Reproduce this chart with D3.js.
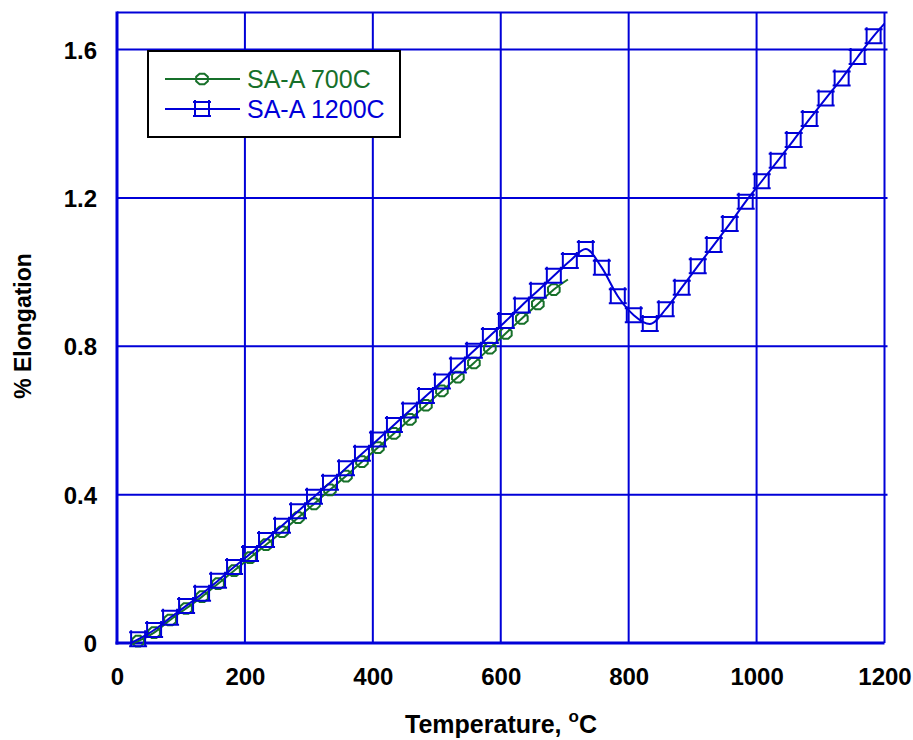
<!DOCTYPE html>
<html>
<head>
<meta charset="utf-8">
<script src="https://cdn.jsdelivr.net/npm/d3@7"></script>
<style>
  html, body { margin: 0; padding: 0; background: #fff; }
  svg { display: block; }
  text { font-family: "Liberation Sans", Arial, sans-serif; }
</style>
</head>
<body>
<svg id="chart" width="913" height="740"></svg>
<script>
// Dilatometer curves: % elongation vs temperature
const seriesNames = ["SA-A 700C", "SA-A 1200C"];

// SA-A heated to 700 C (line points; markers on all but the end points)
const temp700 = [25, 33, 58, 83, 108, 133, 158, 183, 208, 233, 258, 283, 308, 333, 358, 383,
                 408, 433, 458, 483, 508, 533, 558, 583, 608, 633, 658, 683, 705];
const elong700 = [0.0, 0.005, 0.028, 0.062, 0.093, 0.125, 0.16, 0.195, 0.23, 0.265, 0.30, 0.338,
                  0.375, 0.413, 0.45, 0.489, 0.527, 0.565, 0.603, 0.641, 0.68, 0.717, 0.755,
                  0.795, 0.835, 0.875, 0.914, 0.953, 0.98];

// SA-A heated to 1200 C
const temp1200 = [22, 33, 58, 83, 108, 133, 158, 183, 208, 233, 258, 283, 308, 333, 358, 383,
                  408, 433, 458, 483, 508, 533, 558, 583, 608, 633, 658, 683, 708, 733, 758,
                  783, 808, 833, 858, 883, 908, 933, 958, 983, 1008, 1033, 1058, 1083, 1108,
                  1133, 1158, 1183, 1200];
const elong1200 = [0.0, 0.01, 0.035, 0.068, 0.10, 0.133, 0.168, 0.205, 0.24, 0.278, 0.316, 0.355,
                   0.394, 0.432, 0.471, 0.510, 0.549, 0.588, 0.627, 0.666, 0.705, 0.748, 0.788,
                   0.828, 0.868, 0.91, 0.95, 0.99, 1.03, 1.062, 1.012, 0.935, 0.884, 0.86,
                   0.90, 0.958, 1.016, 1.073, 1.13, 1.19, 1.245, 1.30, 1.356, 1.413, 1.468,
                   1.522, 1.58, 1.636, 1.67];

const xTicks = [0, 200, 400, 600, 800, 1000, 1200];
const yTicks = [0, 0.4, 0.8, 1.2, 1.6];
const yTickLabels = ["0", "0.4", "0.8", "1.2", "1.6"];

const BLUE = "#0000d8";
const GREEN = "#17702a";

const svg = d3.select("#chart");
const x = d3.scaleLinear().domain([0, 1200]).range([117, 884.5]);
const y = d3.scaleLinear().domain([0, 1.7]).range([643, 12.5]);

// grid lines
const grid = svg.append("g");
grid.selectAll("line.v").data(xTicks.slice(1)).join("line")
  .attr("x1", d => x(d)).attr("x2", d => x(d))
  .attr("y1", y(1.7)).attr("y2", y(0))
  .attr("stroke", BLUE).attr("stroke-width", 2);
grid.selectAll("line.h").data(yTicks.slice(1).concat([1.7])).join("line")
  .attr("x1", x(0)).attr("x2", x(1200) + 3)
  .attr("y1", d => y(d)).attr("y2", d => y(d))
  .attr("stroke", BLUE).attr("stroke-width", 2);

// axes lines
svg.append("line").attr("x1", x(0)).attr("x2", x(0)).attr("y1", y(1.7) - 1).attr("y2", y(0) + 1.5)
  .attr("stroke", BLUE).attr("stroke-width", 3);
svg.append("line").attr("x1", x(0) - 1.5).attr("x2", x(1200)).attr("y1", y(0)).attr("y2", y(0))
  .attr("stroke", BLUE).attr("stroke-width", 3);

// tick labels via d3 axes
const xAxis = svg.append("g").attr("transform", `translate(0,${y(0)})`)
  .call(d3.axisBottom(x).tickValues(xTicks).tickFormat(d3.format("d")).tickSize(0).tickPadding(25));
const yAxis = svg.append("g").attr("transform", `translate(${x(0)},0)`)
  .call(d3.axisLeft(y).tickValues(yTicks).tickFormat((d, i) => yTickLabels[i]).tickSize(0).tickPadding(20));
[xAxis, yAxis].forEach(a => {
  a.select(".domain").remove();
  a.selectAll("text").attr("font-size", 24).attr("font-weight", "bold")
    .attr("fill", "#000").attr("font-family", "Liberation Sans, Arial, sans-serif");
});
yAxis.selectAll("text").attr("dy", "0.36em");

// axis titles
const xt = svg.append("text").attr("x", 501).attr("y", 733).attr("text-anchor", "middle")
  .attr("font-size", 25).attr("font-weight", "bold");
xt.append("tspan").text("Temperature, ");
xt.append("tspan").attr("font-size", 17).attr("dy", -11).text("o");
xt.append("tspan").attr("dy", 11).text("C");

svg.append("text").attr("transform", "translate(31,326) rotate(-90)")
  .attr("text-anchor", "middle").attr("font-size", 23).attr("font-weight", "bold")
  .text("% Elongation");

// markers
const squarePath = "M-7,-7H7V7H-7Z M-9,-7H9 M-9,7H9 M-7,-9V-7 M7,-9V-7";
const octR = 6.3;
const octPts = d3.range(8).map(i => {
  const a = Math.PI / 8 + i * Math.PI / 4;
  return [octR * Math.cos(a), octR * Math.sin(a) * 0.92];
});
const octPath = "M" + octPts.map(p => p.join(",")).join("L") + "Z";

const line = d3.line().x(d => x(d[0])).y(d => y(d[1])).curve(d3.curveMonotoneX);

function drawSeries(temps, vals, color, path) {
  const pts = temps.map((t, i) => [t, vals[i]]);
  svg.append("path").datum(pts).attr("d", line)
    .attr("fill", "none").attr("stroke", color).attr("stroke-width", 2);
  svg.append("g").selectAll("path").data(pts.slice(1, -1)).join("path")
    .attr("transform", d => `translate(${x(d[0])},${y(d[1])})`)
    .attr("d", path).attr("fill", "none").attr("stroke", color).attr("stroke-width", 2);
}
drawSeries(temp700, elong700, GREEN, octPath);
drawSeries(temp1200, elong1200, BLUE, squarePath);

// legend
const lg = svg.append("g");
lg.append("rect").attr("x", 148).attr("y", 51).attr("width", 252).attr("height", 86)
  .attr("fill", "#fff").attr("stroke", "#000").attr("stroke-width", 2);
const legendItems = [
  { name: seriesNames[0], color: GREEN, path: octPath, yy: 79 },
  { name: seriesNames[1], color: BLUE, path: squarePath, yy: 109 }
];
legendItems.forEach(it => {
  lg.append("line").attr("x1", 165).attr("x2", 240).attr("y1", it.yy).attr("y2", it.yy)
    .attr("stroke", it.color).attr("stroke-width", 2);
  lg.append("path").attr("transform", `translate(202,${it.yy})`).attr("d", it.path)
    .attr("fill", "none").attr("stroke", it.color).attr("stroke-width", 2);
  lg.append("text").attr("x", 247).attr("y", it.yy + 9).attr("font-size", 25)
    .attr("fill", it.color).text(it.name);
});
</script>
</body>
</html>
